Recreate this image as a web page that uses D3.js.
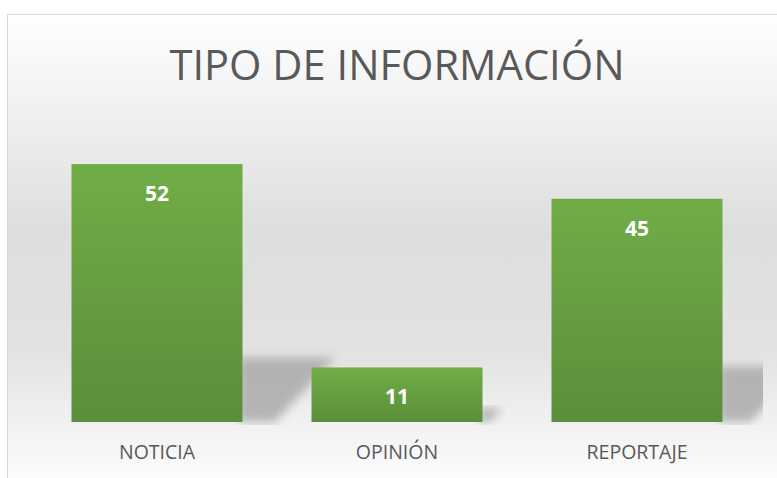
<!DOCTYPE html>
<html>
<head>
<meta charset="utf-8">
<script src="https://cdn.jsdelivr.net/npm/d3@7"></script>
<style>
  html, body { margin: 0; padding: 0; background: #ffffff; }
  svg { display: block; }
</style>
</head>
<body>
<div id="chart"></div>
<script>
var categories = ['NOTICIA', 'OPINIÓN', 'REPORTAJE'];
var values = [52, 11, 45];
var title = 'TIPO DE INFORMACIÓN';

var width = 777, height = 478;

var svg = d3.select('#chart').append('svg')
    .attr('width', width)
    .attr('height', height);

var defs = svg.append('defs');

// Chart area background: white -> grey -> white
var bg = defs.append('linearGradient')
    .attr('id', 'bg').attr('x1', 0).attr('y1', 0).attr('x2', 0).attr('y2', 1);
bg.append('stop').attr('offset', '0%').attr('stop-color', '#ffffff');
bg.append('stop').attr('offset', '45%').attr('stop-color', '#dedede');
bg.append('stop').attr('offset', '70%').attr('stop-color', '#e2e2e2');
bg.append('stop').attr('offset', '100%').attr('stop-color', '#ffffff');

var barGrad = defs.append('linearGradient')
    .attr('id', 'bar').attr('x1', 0).attr('y1', 0).attr('x2', 0).attr('y2', 1);
barGrad.append('stop').attr('offset', '0%').attr('stop-color', '#70ad47');
barGrad.append('stop').attr('offset', '100%').attr('stop-color', '#5b8e3a');

defs.append('filter').attr('id', 'blur')
    .attr('x', '-20%').attr('y', '-20%').attr('width', '140%').attr('height', '140%')
    .append('feGaussianBlur').attr('stdDeviation', 5);

defs.append('clipPath').attr('id', 'plotclip')
    .append('rect').attr('x', 8).attr('y', 15).attr('width', 755).attr('height', 410);

// Chart frame (cut off at right and bottom like the original)
svg.append('rect')
    .attr('x', 7.5).attr('y', 14.5)
    .attr('width', width).attr('height', height)
    .attr('fill', 'url(#bg)')
    .attr('stroke', '#d9d9d9').attr('stroke-width', 1);

// Settings
var baseline = 422;
var x = d3.scaleBand()
    .domain(categories)
    .range([37, 757])
    .paddingInner(0.2875)
    .paddingOuter(0.14375);

var y = d3.scaleLinear()
    .domain([0, 60])
    .range([baseline, baseline - 297.6]);

// Perspective shadows behind the bars
var shadows = svg.append('g').attr('clip-path', 'url(#plotclip)');
shadows.selectAll('path')
    .data(values)
    .enter().append('path')
    .attr('d', function(d, i) {
        var x1 = x(categories[i]) + x.bandwidth(),
            h = baseline - y(d),
            dx = h * 0.36,
            dy = h * 0.25;
        return 'M' + (x1 - 4) + ',' + (baseline - dy) +
            'L' + (x1 + dx) + ',' + (baseline - dy) +
            'L' + (x1 + dx * 0.35) + ',' + baseline +
            'L' + (x1 - 4) + ',' + baseline + 'Z';
    })
    .attr('fill', '#a6a6a6')
    .attr('opacity', 0.8)
    .attr('filter', 'url(#blur)');

// Bars
svg.append('g').selectAll('rect')
    .data(values)
    .enter().append('rect')
    .attr('x', function(d, i) { return x(categories[i]); })
    .attr('y', function(d) { return y(d); })
    .attr('width', x.bandwidth())
    .attr('height', function(d) { return baseline - y(d); })
    .attr('fill', 'url(#bar)');

// Data labels
svg.append('g').selectAll('text')
    .data(values)
    .enter().append('text')
    .attr('x', function(d, i) { return x(categories[i]) + x.bandwidth() / 2; })
    .attr('y', function(d) { return y(d) + 37; })
    .attr('text-anchor', 'middle')
    .style('font-family', '"Open Sans", sans-serif')
    .style('font-weight', 'bold')
    .style('font-size', '21px')
    .style('fill', '#ffffff')
    .text(function(d) { return d; });

// Category axis
var axis = svg.append('g')
    .attr('transform', 'translate(0,' + baseline + ')')
    .call(d3.axisBottom(x).tickSize(0).tickPadding(23));
axis.select('.domain').remove();
axis.selectAll('text')
    .style('font-family', '"Open Sans", sans-serif')
    .style('font-size', '19.5px')
    .style('fill', '#595959');

// Title
svg.append('text')
    .attr('x', 397)
    .attr('y', 80)
    .attr('text-anchor', 'middle')
    .style('font-family', '"Open Sans", sans-serif')
    .style('font-size', '42px')
    .style('fill', '#595959')
    .attr('textLength', 455)
    .attr('lengthAdjust', 'spacingAndGlyphs')
    .text(title);
</script>
</body>
</html>
